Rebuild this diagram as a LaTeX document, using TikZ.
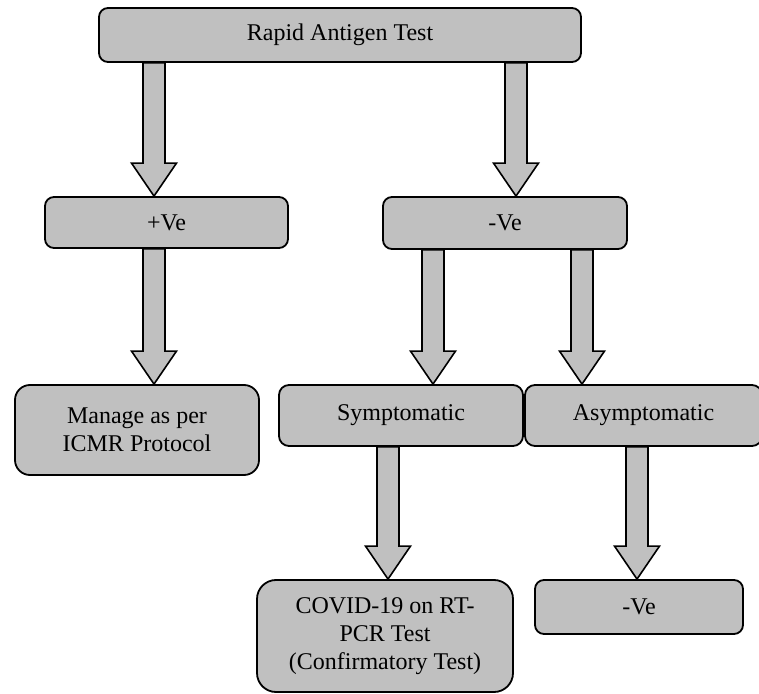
\documentclass[tikz,border=0pt]{standalone}
\usepackage{fontspec}
\setmainfont{Liberation Serif}
\usetikzlibrary{calc}
\definecolor{boxgray}{RGB}{192,192,192}
\newcommand{\fatarrow}[3]{%
  \draw[fat] ($(#1|-#2.south)+(-11,0)$) -- ($(#1|-#3.north)+(-11,-33)$)
    -- ($(#1|-#3.north)+(-22.5,-33)$) -- (#1|-#3.north)
    -- ($(#1|-#3.north)+(22.5,-33)$) -- ($(#1|-#3.north)+(11,-33)$)
    -- ($(#1|-#2.south)+(11,0)$) -- cycle;}

\begin{document}
\begin{tikzpicture}[x=0.5pt,y=-0.5pt,font=\fontsize{12}{14}\selectfont]
\tikzstyle{box}=[rectangle,rounded corners=4.5pt,fill=boxgray,draw=black,line width=0.9pt,text=black,align=center,inner sep=0pt]
\tikzstyle{fat}=[fill=boxgray,draw=black,line width=0.8pt]
\useasboundingbox (0,0) rectangle (759,694);
\node[box,minimum width=241pt,minimum height=27pt] (rat) at (340,35) {Rapid Antigen Test};
\node[box,minimum width=121.5pt,minimum height=25.5pt] (pos) at (166.5,222.5) {+Ve};
\node[box,minimum width=122pt,minimum height=26pt] (neg) at (505,223) {-Ve};
\node[box,rounded corners=7.5pt,minimum width=122pt,minimum height=45pt] (icmr) at (137,430) {Manage as per\\ICMR Protocol};
\node[box,rounded corners=5pt,minimum width=122pt,minimum height=30.5pt] (sym) at (401,415.5) {Symptomatic};
\node[box,rounded corners=5pt,minimum width=118.5pt,minimum height=30.5pt] (asym) at (643.5,415.5) {Asymptomatic};
\node[box,rounded corners=9.5pt,minimum width=128pt,minimum height=56pt] (pcr) at (385,636) {COVID-19 on RT-\\PCR Test\\(Confirmatory Test)};
\node[box,minimum width=104pt,minimum height=27pt] (negb) at (639,607) {-Ve};
\coordinate (c1) at (154,0);
\coordinate (c2) at (516,0);
\coordinate (c3) at (433,0);
\coordinate (c4) at (582,0);
\coordinate (c5) at (388,0);
\coordinate (c6) at (637,0);
\fatarrow{c1}{rat}{pos}
\fatarrow{c2}{rat}{neg}
\fatarrow{c1}{pos}{icmr}
\fatarrow{c3}{neg}{sym}
\fatarrow{c4}{neg}{asym}
\fatarrow{c5}{sym}{pcr}
\fatarrow{c6}{asym}{negb}
\end{tikzpicture}
\end{document}
